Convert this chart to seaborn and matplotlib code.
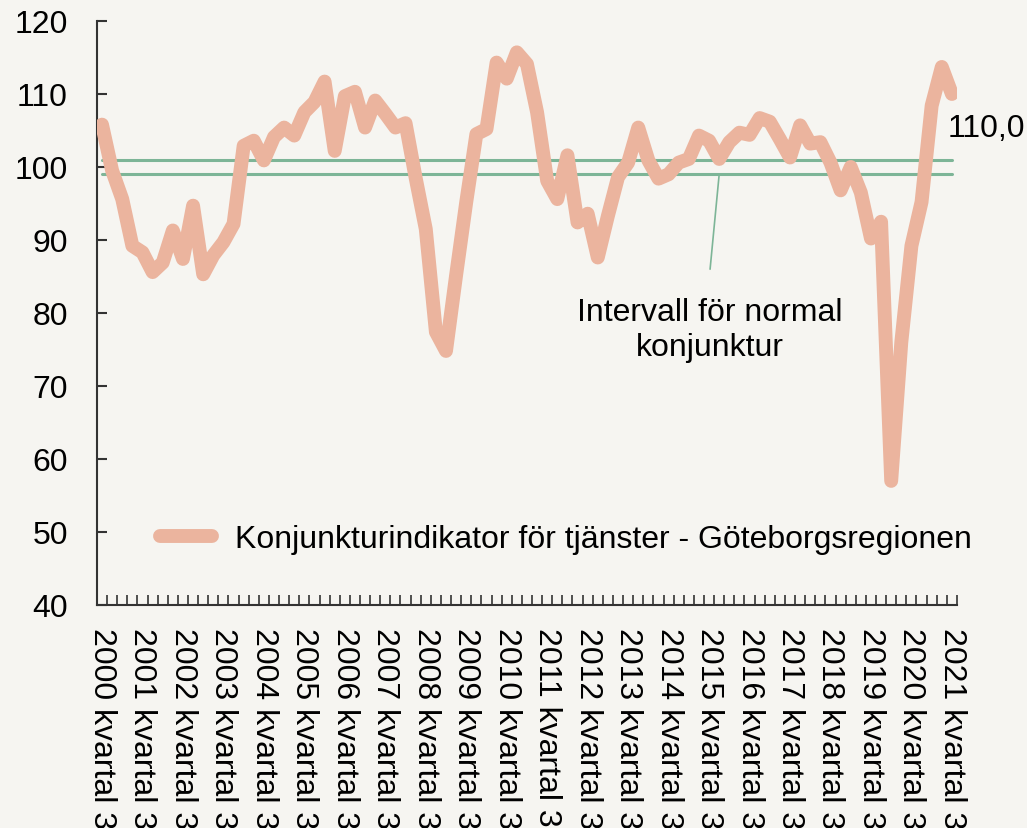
import numpy as np
import pandas as pd
import matplotlib
matplotlib.use("Agg")
import matplotlib.pyplot as plt
import seaborn as sns

years = list(range(2000, 2022))
tick_labels = [f"{y} kvartal 3" for y in years]

values = [105.8, 99.5, 95.6, 89.2, 88.3, 85.6, 86.9, 91.3, 87.4, 94.7,
          85.3, 87.9, 89.7, 92.2, 102.9, 103.6, 100.9, 104.1, 105.4, 104.3,
          107.5, 108.9, 111.7, 102.2, 109.7, 110.3, 105.4, 109.1, 107.3, 105.4,
          106.0, 98.5, 91.5, 77.4, 74.8, 85.2, 95.2, 104.5, 105.2, 114.3,
          112.1, 115.7, 114.1, 107.5, 98.1, 95.6, 101.6, 92.4, 93.6, 87.6,
          93.3, 98.6, 100.6, 105.4, 100.9, 98.4, 99.0, 100.6, 101.1, 104.3,
          103.6, 101.1, 103.4, 104.7, 104.4, 106.7, 106.2, 103.8, 101.3, 105.7,
          103.2, 103.4, 100.6, 96.8, 100.0, 96.5, 90.2, 92.5, 57.0, 76.0,
          89.2, 95.2, 108.4, 113.7, 110.0]
normal_low = 99
normal_high = 101

series_name = "Konjunkturindikator för tjänster - Göteborgsregionen"

df = pd.DataFrame({"q": np.arange(len(values)), "value": values})

bg = "#f6f5f1"
line_col = "#ebb49e"
green = "#7db597"
fs = 23

sns.set_style("ticks")
plt.rcParams["font.family"] = ["Liberation Sans", "DejaVu Sans"]
plt.rcParams["font.size"] = fs
plt.rcParams["text.color"] = "black"
plt.rcParams["xtick.labelcolor"] = "black"
plt.rcParams["ytick.labelcolor"] = "black"

fig = plt.figure(figsize=(10.27, 8.29), dpi=100, facecolor=bg)
ax = fig.add_axes([0.0944, 0.269, 0.8374, 0.7045], facecolor=bg)

n = len(values)
ax.plot([0, n - 1], [normal_high, normal_high], color=green, lw=2.2, zorder=2)
ax.plot([0, n - 1], [normal_low, normal_low], color=green, lw=2.2, zorder=2)

sns.lineplot(data=df, x="q", y="value", ax=ax, color=line_col, linewidth=10,
             solid_capstyle="round", solid_joinstyle="round", label=series_name,
             zorder=3)

ax.set_xlim(-0.5, n - 0.5)
ax.set_ylim(40, 120)
ax.set_yticks(range(40, 121, 10))
ax.set_xticks(np.arange(0, n, 4))
ax.set_xticklabels(tick_labels, rotation=-90, fontsize=fs)
ax.set_xticks(np.arange(-0.5, n, 1), minor=True)
ax.tick_params(axis="x", which="major", length=0, pad=16)
ax.tick_params(axis="x", which="minor", direction="in", length=7, width=1.2, color="#333333")
ax.tick_params(axis="y", direction="in", length=7, width=1.5, color="#333333", labelsize=fs, pad=21)
ax.set_xlabel("")
ax.set_ylabel("")
for s in ["top", "right"]:
    ax.spines[s].set_visible(False)
for s in ["left", "bottom"]:
    ax.spines[s].set_color("#333333")
    ax.spines[s].set_linewidth(1.5)

# annotation for the normal interval
ax.plot([61.0, 60.1], [normal_low, 86.0], color=green, lw=1.2, zorder=2)
ax.text(60.1, 77.7, "Intervall för normal\nkonjunktur", ha="center", va="center",
        multialignment="center", fontsize=fs, linespacing=1.2)

ax.text(83.6, 105.3, "110,0", ha="left", va="center", fontsize=fs)

leg = ax.legend(loc="center left", bbox_to_anchor=(0.073, 0.113), frameon=False,
                borderaxespad=0, borderpad=0, handlelength=1.65, handletextpad=0.7,
                fontsize=fs)
for h in leg.get_lines():
    h.set_linewidth(10)
    h.set_solid_capstyle("round")

fig.savefig("out.png", dpi=100, facecolor=bg)
